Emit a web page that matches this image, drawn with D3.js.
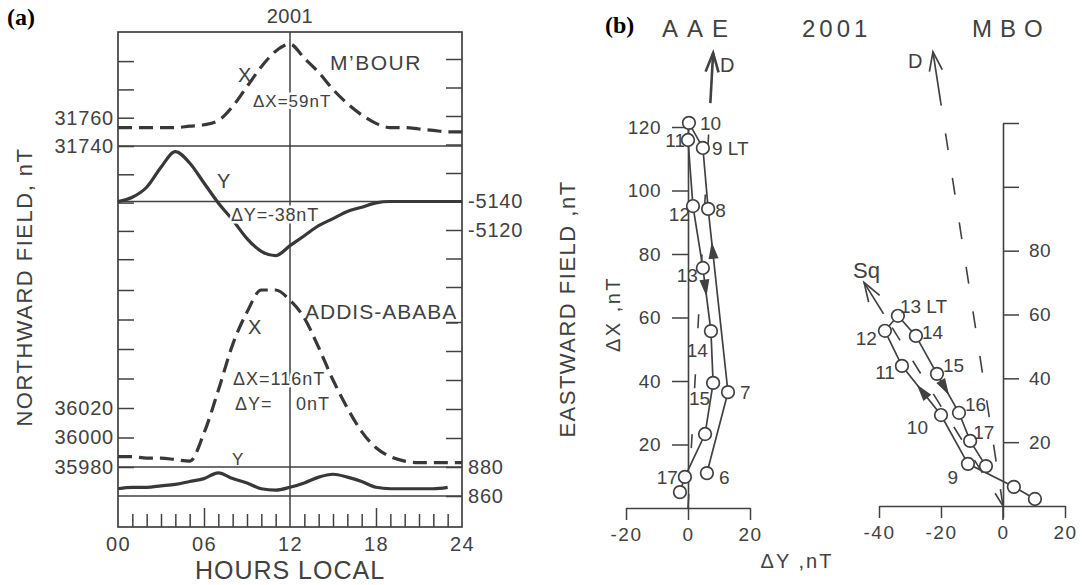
<!DOCTYPE html>
<html>
<head>
<meta charset="utf-8">
<script src="https://cdn.jsdelivr.net/npm/d3@7"></script>
<style>
  body { margin: 0; background: #fff; }
  svg { font-family: 'Liberation Sans', Arial, sans-serif; }
  .knock { paint-order: stroke; stroke: #fff; stroke-width: 5px; stroke-linejoin: round; }
</style>
</head>
<body>
<svg width="1084" height="585"></svg>
<script>
'use strict'

// ---- panel (a): hourly local-time field values, nT
const hours = d3.range(0, 25)
const mbourX = [31753, 31753, 31753, 31753, 31753, 31754, 31755, 31758, 31768, 31782, 31796, 31807, 31812,
  31802, 31792, 31780, 31770, 31762, 31756, 31753, 31753, 31752, 31751, 31750, 31750]
const mbourY = [-5140, -5143, -5150, -5164, -5175, -5167, -5153, -5139, -5127, -5114, -5105, -5102, -5109,
  -5116, -5123, -5128, -5133, -5136, -5139, -5140, -5140, -5140, -5140, -5140, -5140]
const addisX = [35987, 35987, 35986, 35986, 35985, 35984, 36003, 36032, 36063, 36085, 36100, 36100, 36093,
  36081, 36061, 36039, 36020, 36004, 35993, 35987, 35984, 35983, 35983, 35983, 35983]
const addisY = [865, 866, 866, 867, 868, 870, 872, 876, 872, 869, 865, 864, 866,
  869, 873, 875, 873, 870, 866, 865, 865, 865, 865, 866]
const hourLabels = [0, 6, 12, 18, 24]
const leftLabels = [31760, 31740, 36020, 36000, 35980]
const rightLabels = [-5140, -5120, 880, 860]

// ---- panel (b): hodographs, dY (east) and dX (north) in nT
const aaeHours = [6, 7, 8, 9, 10, 11, 12, 13, 14, 15, 16, 17, 18]
const aaeDY = [6.1, 12.9, 6.5, 4.8, 0.3, 0.0, 1.6, 4.8, 7.4, 8.1, 5.5, -1.0, -2.6]
const aaeDX = [11.0, 36.5, 94.2, 113.4, 121.3, 115.9, 95.1, 75.6, 55.7, 39.4, 23.3, 9.8, 5.0]
const mboHours = [7, 8, 9, 10, 11, 12, 13, 14, 15, 16, 17, 18]
const mboDY = [10.3, 3.5, -11.3, -20.0, -32.6, -38.1, -33.9, -28.1, -21.3, -14.2, -10.6, -5.5]
const mboDX = [2.2, 6.0, 13.2, 28.5, 43.9, 54.9, 59.6, 53.3, 41.4, 29.2, 20.4, 12.5]
const aaeD = [8.1, 143.3]
const mboD = [-22.6, 142.3]
const mboSq = [-44.8, 70]

const ink = '#414141'
const FONT = "'Liberation Sans', Arial, sans-serif"
const svg = d3.select('svg')

function txt(t, x0, y0, size, opts = {}) {
  const el = svg.append('text').attr('x', x0).attr('y', y0).text(t)
    .attr('font-size', size).attr('fill', ink)
    .attr('letter-spacing', opts.ls || 0)
    .attr('text-anchor', opts.anchor || 'start')
  if (opts.knock) el.classed('knock', true)
  if (opts.font) el.attr('font-family', opts.font).attr('font-weight', 'bold').attr('fill', '#000')
  if (opts.rot) el.attr('transform', `rotate(-90,${x0},${y0})`)
  return el
}

function styleAxis(g, size, ls) {
  g.attr('font-family', FONT).attr('font-size', size).attr('color', ink)
  g.selectAll('line').attr('stroke-width', 1.5)
  g.selectAll('text').attr('letter-spacing', ls)
}

// ================= panel (a)
const x = d3.scaleLinear().domain([0, 24]).range([118, 462])
const yMX = d3.scaleLinear().domain([31740, 31760]).range([146, 117.7])
const yMY = d3.scaleLinear().domain([-5140, -5120]).range([201.5, 230])
const yAX = d3.scaleLinear().domain([35980, 36020]).range([467, 408])
const yAY = d3.scaleLinear().domain([860, 880]).range([496, 467])
const frameTop = 32
const frameBottom = 527

const lab = (list) => (d) => list.includes(d) ? d : ''

svg.append('g').attr('transform', `translate(${x(0)},0)`)
  .call(d3.axisLeft(yMX).tickValues(d3.range(31660, 31801, 20)).tickSizeInner(-16).tickSizeOuter(0)
    .tickPadding(4).tickFormat(lab(leftLabels)))
  .call((g) => { g.select('.domain').remove(); styleAxis(g, 20, 0.8) })
svg.append('g').attr('transform', `translate(${x(0)},0)`)
  .call(d3.axisLeft(yAX).tickValues(d3.range(35980, 36101, 20)).tickSizeInner(-16).tickSizeOuter(0)
    .tickPadding(4).tickFormat(lab(leftLabels)))
  .call((g) => { g.select('.domain').remove(); styleAxis(g, 20, 0.8) })
svg.append('g').attr('transform', `translate(${x(24)},0)`)
  .call(d3.axisRight(yMY).tickValues(d3.range(-5240, -5079, 20)).tickSizeInner(-16).tickSizeOuter(0)
    .tickPadding(6).tickFormat(lab(rightLabels)))
  .call((g) => { g.select('.domain').remove(); styleAxis(g, 20, 0.8) })
svg.append('g').attr('transform', `translate(${x(24)},0)`)
  .call(d3.axisRight(yAY).tickValues(d3.range(860, 981, 20)).tickSizeInner(-16).tickSizeOuter(0)
    .tickPadding(6).tickFormat(lab(rightLabels)))
  .call((g) => { g.select('.domain').remove(); styleAxis(g, 20, 0.8) })

// hour ticks along the bottom, pointing up
svg.append('g').attr('transform', `translate(0,${frameBottom})`)
  .call(d3.axisBottom(x).tickValues(d3.range(1, 24).filter((h) => h % 6 !== 0))
    .tickSizeInner(-13).tickSizeOuter(0).tickFormat(''))
  .call((g) => { g.select('.domain').remove(); styleAxis(g, 20, 0) })
svg.append('g').attr('transform', `translate(0,${frameBottom})`)
  .call(d3.axisBottom(x).tickValues([6, 18]).tickSizeInner(-19).tickSizeOuter(0).tickFormat(''))
  .call((g) => { g.select('.domain').remove(); styleAxis(g, 20, 0) })
svg.append('g').attr('transform', `translate(0,${frameBottom})`)
  .call(d3.axisBottom(x).tickValues(hourLabels).tickSize(0).tickPadding(10).tickFormat(d3.format('02d')))
  .call((g) => { g.select('.domain').remove(); styleAxis(g, 20, 1.5) })

// frame and reference lines
svg.append('rect').attr('x', x(0)).attr('y', frameTop).attr('width', x(24) - x(0))
  .attr('height', frameBottom - frameTop)
  .attr('fill', 'none').attr('stroke', ink).attr('stroke-width', 1.7)
const hRefs = [yMX(31740), yMY(-5140), yAY(880), yAY(860)]
svg.selectAll('line.href').data(hRefs).enter().append('line').classed('href', true)
  .attr('x1', x(0)).attr('x2', x(24)).attr('y1', (d) => d).attr('y2', (d) => d)
  .attr('stroke', ink).attr('stroke-width', 1.3)
svg.append('line').attr('x1', x(12)).attr('x2', x(12)).attr('y1', frameTop).attr('y2', frameBottom)
  .attr('stroke', ink).attr('stroke-width', 1.5)

function curve(vals, ys, dashed) {
  svg.append('path').datum(vals.map((v, i) => [hours[i], v]))
    .attr('d', d3.line().x((d) => x(d[0])).y((d) => ys(d[1])).curve(d3.curveMonotoneX))
    .attr('fill', 'none').attr('stroke', '#383838').attr('stroke-width', 3.2)
    .attr('stroke-dasharray', dashed ? '14,7' : null)
}
curve(mbourX, yMX, true)
curve(mbourY, yMY, false)
curve(addisX, yAX, true)
curve(addisY, yAY, false)

// panel (a) texts
txt('(a)', 7, 25, 24, { font: "'Liberation Serif', 'Times New Roman', serif" })
txt('2001', x(12), 23, 20, { anchor: 'middle', ls: 0.5 })
txt('M\u2019BOUR', 330, 70, 21, { ls: 1.5 })
txt('X', 238, 82, 20)
txt('\u0394X=59nT', 253, 107, 17, { ls: 1, knock: true })
txt('Y', 217, 188, 20)
txt('\u0394Y=-38nT', 231, 221, 18, { ls: 0.8, knock: true })
txt('ADDIS-ABABA', 305, 319, 21, { ls: 1 })
svg.append('line').attr('x1', 446).attr('x2', 458).attr('y1', 323).attr('y2', 323)
  .attr('stroke', ink).attr('stroke-width', 1.4)
txt('X', 248, 334, 20)
txt('\u0394X=116nT', 233, 385, 18, { ls: 1, knock: true })
txt('\u0394Y=', 235, 410, 18, { ls: 1, knock: true })
txt('0nT', 296, 410, 18, { ls: 1, knock: true })
txt('Y', 232, 465, 17)
txt('HOURS LOCAL', x(12), 579, 25, { anchor: 'middle', ls: 1 })
txt('NORTHWARD FIELD, nT', 32, 287, 22, { anchor: 'middle', ls: 1.5, rot: true })
txt('EASTWARD FIELD ,nT', 575, 309, 22, { anchor: 'middle', ls: 1.5, rot: true })

// ================= panel (b)
const xA = d3.scaleLinear().domain([-20, 20]).range([626, 750])
const yA = d3.scaleLinear().domain([0, 120]).range([508, 127])
const xM = d3.scaleLinear().domain([-40, 20]).range([879, 1065])
const yM = d3.scaleLinear().domain([0, 120]).range([506, 123])

svg.append('g').attr('transform', `translate(0,${yA(0)})`)
  .call(d3.axisBottom(xA).tickValues([-20, 0, 20]).tickSizeInner(12).tickSizeOuter(0).tickPadding(8)
    .tickFormat((d) => d))
  .call((g) => styleAxis(g, 19, 1.5))
svg.append('g').attr('transform', `translate(${xA(0)},0)`)
  .call(d3.axisLeft(yA).tickValues(d3.range(20, 121, 20)).tickSizeInner(16).tickSizeOuter(0).tickPadding(11))
  .call((g) => styleAxis(g, 19, 0.5))
svg.append('g').attr('transform', `translate(0,${yM(0)})`)
  .call(d3.axisBottom(xM).tickValues([-40, -20, 0, 20]).tickSizeInner(12).tickSizeOuter(0).tickPadding(8)
    .tickFormat((d) => d))
  .call((g) => styleAxis(g, 19, 1.5))
svg.append('g').attr('transform', `translate(${xM(0)},0)`)
  .call(d3.axisRight(yM).tickValues(d3.range(20, 121, 20)).tickSizeInner(16).tickSizeOuter(0).tickPadding(10)
    .tickFormat((d) => d <= 80 ? d : ''))
  .call((g) => styleAxis(g, 19, 0.5))
svg.selectAll('.domain').attr('stroke-width', 1.6)
svg.append('line').attr('x1', xM(0)).attr('x2', xM(0)).attr('y1', yM(0)).attr('y2', yM(0) + 14)
  .attr('stroke', ink).attr('stroke-width', 1.6)

// D and Sq directions: dashed from origin, solid shaft and open head at the tip
function direction(xs, ys, tip, solidFrom, dash, width) {
  const o = [xs(0), ys(0)]
  const t = [xs(tip[0]), ys(tip[1])]
  const s = [o[0] + (t[0] - o[0]) * solidFrom, o[1] + (t[1] - o[1]) * solidFrom]
  svg.append('line').attr('x1', o[0]).attr('y1', o[1]).attr('x2', s[0]).attr('y2', s[1])
    .attr('stroke', ink).attr('stroke-width', 1.6).attr('stroke-dasharray', dash)
  svg.append('line').attr('x1', s[0]).attr('y1', s[1]).attr('x2', t[0]).attr('y2', t[1])
    .attr('stroke', ink).attr('stroke-width', width)
  const ang = Math.atan2(t[1] - o[1], t[0] - o[0]) * 180 / Math.PI
  svg.append('path').attr('d', 'M-19,-6.5L0,0L-19,6.5')
    .attr('transform', `translate(${t[0]},${t[1]}) rotate(${ang})`)
    .attr('fill', 'none').attr('stroke', ink).attr('stroke-width', width)
}
direction(xA, yA, aaeD, 0.89, '14,46', 2.6)
direction(xM, yM, mboD, 0.89, '17,28', 1.7)
direction(xM, yM, mboSq, 0.86, '15,24', 1.7)

function hodograph(hrs, dy, dx, xs, ys, labels) {
  const pts = hrs.map((h, i) => ({ h, px: xs(dy[i]), py: ys(dx[i]) }))
  svg.append('path').datum(pts).attr('d', d3.line().x((d) => d.px).y((d) => d.py))
    .attr('fill', 'none').attr('stroke', ink).attr('stroke-width', 1.7)
  svg.selectAll(null).data(pts).enter().append('circle')
    .attr('cx', (d) => d.px).attr('cy', (d) => d.py).attr('r', 6.3)
    .attr('fill', '#fff').attr('stroke', ink).attr('stroke-width', 1.7)
  svg.selectAll(null).data(pts.filter((d) => labels[d.h])).enter().append('text')
    .attr('x', (d) => d.px + labels[d.h][0]).attr('y', (d) => d.py + labels[d.h][1])
    .attr('text-anchor', (d) => labels[d.h][2])
    .attr('font-size', 19).attr('fill', ink)
    .text((d) => labels[d.h][3] ? d.h + ' LT' : d.h)
  return pts
}

function segArrow(pts, i, t) {
  const p0 = pts[i]
  const p1 = pts[i + 1]
  const xm = p0.px + (p1.px - p0.px) * t
  const ym = p0.py + (p1.py - p0.py) * t
  const ang = Math.atan2(p1.py - p0.py, p1.px - p0.px) * 180 / Math.PI
  svg.append('path').attr('d', 'M0,0L-17,-5L-17,5Z')
    .attr('transform', `translate(${xm},${ym}) rotate(${ang})`).attr('fill', ink)
}

const aaeLabelPos = {
  6: [12, 11, 'start'], 7: [12, 7, 'start'], 8: [7, 8, 'start'], 9: [9, 7, 'start', true],
  10: [11, 7, 'start'], 11: [-3, 7, 'end'], 12: [-3, 15, 'end'], 13: [-5, 14, 'end'],
  14: [-3, 26, 'end'], 15: [-3, 22, 'end'], 17: [-7, 7, 'end']
}
const mboLabelPos = {
  9: [-10, 20, 'end'], 10: [-13, 19, 'end'], 11: [-7, 13, 'end'], 12: [-8, 14, 'end'],
  13: [2, -3, 'start', true], 14: [6, 3, 'start'], 15: [6, -2, 'start'], 16: [6, -2, 'start'],
  17: [3, -2, 'start']
}
const aaePts = hodograph(aaeHours, aaeDY, aaeDX, xA, yA, aaeLabelPos)
const mboPts = hodograph(mboHours, mboDY, mboDX, xM, yM, mboLabelPos)
segArrow(aaePts, 1, 0.82)
segArrow(aaePts, 7, 0.45)
segArrow(mboPts, 3, 0.62)
segArrow(mboPts, 8, 0.55)

// panel (b) texts
txt('(b)', 605, 33, 24, { font: "'Liberation Serif', 'Times New Roman', serif" })
txt('AAE', 662, 37, 24, { ls: 9 })
txt('2001', 802, 37, 24, { ls: 4 })
txt('MBO', 972, 37, 24, { ls: 8 })
txt('D', 720, 72, 20)
txt('D', 908, 68, 20)
txt('Sq', 853, 278, 22)
txt('\u0394X ,nT', 620, 314, 20, { anchor: 'middle', ls: 2.5, rot: true })
txt('\u0394Y ,nT', 797, 568, 20, { anchor: 'middle', ls: 2 })
</script>
</body>
</html>
